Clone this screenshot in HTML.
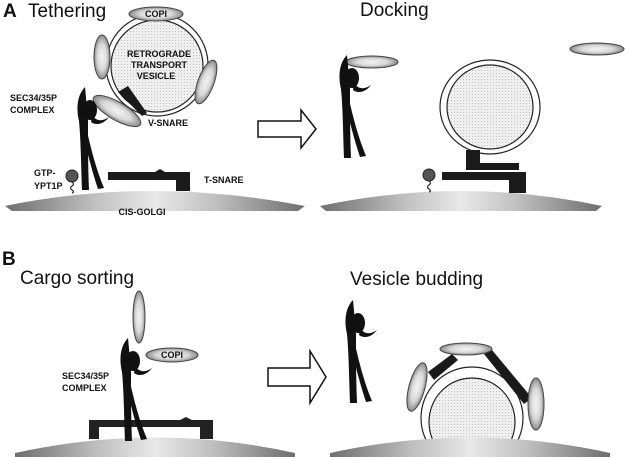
<!DOCTYPE html>
<html><head><meta charset="utf-8"><style>
html,body{margin:0;padding:0;background:#fff;}
svg{display:block;font-family:"Liberation Sans",sans-serif;}
.lbl{font-weight:bold;font-size:9px;fill:#111;}
.ttl{font-size:19px;fill:#111;}
</style></head><body>
<svg width="625" height="457" viewBox="0 0 625 457">
<defs>
<radialGradient id="eg" cx="50%" cy="50%" r="50%"><stop offset="0" stop-color="#f4f4f4"/><stop offset="0.6" stop-color="#d8d8d8"/><stop offset="1" stop-color="#8a8a8a"/></radialGradient>
<linearGradient id="mg" x1="0" x2="1" y1="0" y2="0"><stop offset="0" stop-color="#6e6e6e"/><stop offset="0.3" stop-color="#c0c0c0"/><stop offset="0.5" stop-color="#e8e8e8"/><stop offset="0.7" stop-color="#c0c0c0"/><stop offset="1" stop-color="#6e6e6e"/></linearGradient>
<pattern id="dots" width="3" height="3" patternUnits="userSpaceOnUse"><rect width="3" height="3" fill="#f0f0f0"/><circle cx="1.5" cy="1.5" r="0.45" fill="#aaa"/></pattern>
<g id="tether">
<path d="M7,0 C-1,8 -2,22 1,34 C3,55 3,80 4,103 L11,103 C10,80 10,55 10,34 C9,22 8,10 7,0 Z" fill="#111"/>
<path d="M8,40 C13,62 18,82 26,101 L20,102 C14,84 9,65 5,45 Z" fill="#111"/>
<ellipse cx="12" cy="23" rx="7" ry="10" fill="#111"/>
<path d="M14,28 C18,34 24,35 31,30 C26,37 18,39 13,35 Z" fill="#111"/>
</g>
</defs>

<g>
<text x="3" y="17" class="ttl" style="font-weight:bold">A</text>
<text x="28" y="17" class="ttl">Tethering</text>
<path d="M5,206 Q150,176 305,206 L298,211 L12,211 Z" fill="url(#mg)"/>
<text x="142" y="215" class="lbl" text-anchor="middle">CIS-GOLGI</text>
<circle cx="157" cy="65" r="51" fill="#fff" stroke="#222" stroke-width="1.2"/>
<circle cx="157" cy="66" r="46" fill="url(#dots)" stroke="#222" stroke-width="1.2"/>
<text class="lbl" text-anchor="middle" font-size="9.5"><tspan x="159" y="57">RETROGRADE</tspan><tspan x="159" y="68">TRANSPORT</tspan><tspan x="156" y="79">VESICLE</tspan></text>
<ellipse cx="156" cy="14" rx="27" ry="7" fill="url(#eg)" stroke="#444"/>
<text x="156" y="17" class="lbl" text-anchor="middle">COPI</text>
<ellipse cx="102" cy="57" rx="8" ry="22" fill="url(#eg)" stroke="#444"/>
<ellipse cx="206" cy="82" rx="8" ry="23" transform="rotate(20 206 82)" fill="url(#eg)" stroke="#444"/>
<path d="M118,92 L128,86 L147,113 L142,116 Z" fill="#1a1a1a"/>
<ellipse cx="117" cy="111" rx="27" ry="9" transform="rotate(30 117 111)" fill="url(#eg)" stroke="#444"/>
<text x="148" y="126" class="lbl">V-SNARE</text>
<text class="lbl"><tspan x="10" y="101">SEC34/35P</tspan><tspan x="10" y="113">COMPLEX</tspan></text>
<use href="#tether" x="78" y="87"/>
<text class="lbl"><tspan x="34" y="176">GTP-</tspan><tspan x="34" y="189">YPT1P</tspan></text>
<circle cx="72" cy="176" r="6" fill="#555" stroke="#222"/>
<path d="M72,182 q3,2 0,4 q-3,2 0,4 q3,2 0,3" stroke="#222" fill="none" stroke-width="1.2"/>
<path d="M108,172 L155,172 L160,169 L165,172 L190,172 L190,191 L176,191 L176,180 L108,180 Z" fill="#1a1a1a"/>
<text x="204" y="183" class="lbl">T-SNARE</text>
<path d="M258,121 L301,121 L301,110 L316,129 L301,148 L301,137 L258,137 Z" fill="#fff" stroke="#111" stroke-width="1.5"/>
</g>

<g>
<text x="360" y="16" class="ttl">Docking</text>
<path d="M320,206 Q461,176 602,206 L596,211 L326,211 Z" fill="url(#mg)"/>
<ellipse cx="372" cy="62" rx="26" ry="6" fill="url(#eg)" stroke="#444"/>
<ellipse cx="597" cy="49" rx="27" ry="6" fill="url(#eg)" stroke="#444"/>
<use href="#tether" x="340" y="55"/>
<ellipse cx="490" cy="107" rx="50" ry="47" fill="#fff" stroke="#222" stroke-width="1.2"/>
<ellipse cx="490" cy="107" rx="43" ry="42" fill="url(#dots)" stroke="#222" stroke-width="1.2"/>
<rect x="466" y="150" width="14" height="14" fill="#1a1a1a"/>
<rect x="466" y="163" width="53" height="7" fill="#1a1a1a"/>
<path d="M442,172 L526,172 L526,193 L509,193 L509,180 L442,180 Z" fill="#1a1a1a"/>
<circle cx="429" cy="175" r="6" fill="#555" stroke="#222"/>
<path d="M429,181 q3,2 0,4 q-3,2 0,4 q3,2 0,3" stroke="#222" fill="none" stroke-width="1.2"/>
</g>

<g>
<text x="2" y="265" class="ttl" style="font-weight:bold">B</text>
<text x="20" y="284" class="ttl">Cargo sorting</text>
<path d="M15,453 Q155,422 295,453 L295,457 L15,457 Z" fill="url(#mg)"/>
<ellipse cx="139" cy="317" rx="6" ry="26" fill="url(#eg)" stroke="#444"/>
<ellipse cx="172" cy="355" rx="26" ry="7" fill="url(#eg)" stroke="#444"/>
<text x="172" y="358" class="lbl" text-anchor="middle">COPI</text>
<text class="lbl"><tspan x="62" y="379">SEC34/35P</tspan><tspan x="62" y="391">COMPLEX</tspan></text>
<path d="M89,420 L180,420 L186,417 L192,420 L213,420 L213,439 L200,439 L200,427 L99,427 L99,439 L89,439 Z" fill="#222"/>
<use href="#tether" x="121" y="338"/>
<path d="M268,368 L310,368 L310,351 L326,377 L310,403 L310,386 L268,386 Z" fill="#fff" stroke="#111" stroke-width="1.5"/>
</g>

<g>
<text x="350" y="285" class="ttl">Vesicle budding</text>
<use href="#tether" x="346" y="300"/>
<ellipse cx="472" cy="418" rx="51" ry="51" fill="#fff" stroke="#222" stroke-width="1.2"/>
<ellipse cx="472" cy="422" rx="43" ry="44" fill="url(#dots)" stroke="#222" stroke-width="1.2"/>
<path d="M330,453 Q470,422 610,453 L610,457 L330,457 Z" fill="url(#mg)"/>
<path d="M428,372 L452,354 L458,360 L434,380 Z" fill="#1a1a1a"/>
<path d="M484,354 L492,350 L532,398 L524,404 Z" fill="#1a1a1a"/>
<ellipse cx="466" cy="349" rx="26" ry="6" fill="url(#eg)" stroke="#444"/>
<ellipse cx="417" cy="387" rx="8" ry="25" transform="rotate(15 417 387)" fill="url(#eg)" stroke="#444"/>
<ellipse cx="536" cy="404" rx="8" ry="26" fill="url(#eg)" stroke="#444"/>
</g>
</svg>
</body></html>
